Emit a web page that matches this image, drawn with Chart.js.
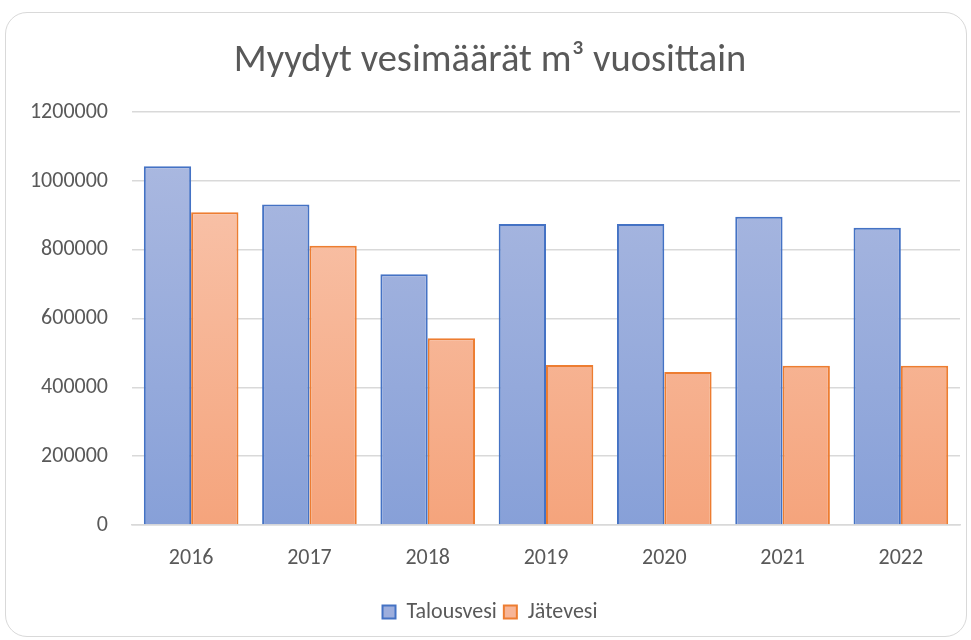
<!DOCTYPE html>
<html>
<head>
<meta charset="utf-8">
<script src="https://cdn.jsdelivr.net/npm/chart.js@4.4.1/dist/chart.umd.min.js"></script>
<style>
  body { margin: 0; background: #fff; }
  #card {
    position: absolute; left: 5px; top: 12px; width: 960px; height: 623px;
    border: 1px solid #d9d9d9; border-radius: 22px;
  }
  #wrap { position: absolute; left: 0; top: 0; width: 971px; height: 640px; }
</style>
</head>
<body>
<div id="card"></div>
<div id="wrap"><canvas id="waterChart" width="971" height="640"></canvas></div>
<script>
// 데이터
const years = ["2016", "2017", "2018", "2019", "2020", "2021", "2022"];
const talousvesi = [1043000, 932000, 729000, 875000, 875000, 896000, 864000];
const jatevesi = [909000, 812000, 543000, 465000, 445000, 463000, 463000];
const yTicks = [0, 200000, 400000, 600000, 800000, 1000000, 1200000];

const fontFamily = 'Carlito, "Liberation Sans Narrow", Lato, sans-serif';
const textColor = "#595959";

// 막대 그라데이션
function makeGradient(ctx, top, bottom) {
  const area = ctx.chart.chartArea;
  if (!area) return bottom;
  const g = ctx.chart.ctx.createLinearGradient(0, area.top, 0, area.bottom);
  g.addColorStop(0, top);
  g.addColorStop(1, bottom);
  return g;
}

const ctx = document.getElementById("waterChart").getContext("2d");
new Chart(ctx, {
  type: "bar",
  data: {
    labels: years,
    datasets: [
      {
        label: "Talousvesi",
        data: talousvesi,
        backgroundColor: (c) => makeGradient(c, "#aebbe1", "#87a0d8"),
        borderColor: "#4472c4",
        borderWidth: 2,
      },
      {
        label: "Jätevesi",
        data: jatevesi,
        backgroundColor: (c) => makeGradient(c, "#f9c9b3", "#f5a47c"),
        borderColor: "#ed7d31",
        borderWidth: 2,
      },
    ],
  },
  options: {
    responsive: false,
    animation: false,
    layout: { padding: { left: 20, right: 11, top: 0, bottom: 7 } },
    datasets: {
      bar: { categoryPercentage: 0.8, barPercentage: 1.0 },
    },
    scales: {
      x: {
        grid: { display: false, drawTicks: false },
        border: { display: true, color: "#d9d9d9", width: 1.5 },
        ticks: { color: textColor, font: { family: fontFamily, size: 22 }, padding: 20 },
        afterFit: (s) => { s.height = 69; },
      },
      y: {
        min: 0,
        max: 1200000,
        afterBuildTicks: (s) => { s.ticks = yTicks.map((v) => ({ value: v })); },
        grid: { color: "#d9d9d9", lineWidth: 1.5, drawTicks: false },
        border: { display: false },
        ticks: {
          color: textColor,
          font: { family: fontFamily, size: 22 },
          padding: 24,
          callback: (v) => String(v),
        },
        afterFit: (s) => { s.width = 112; },
      },
    },
    plugins: {
      title: {
        display: true,
        text: "Myydyt vesimäärät m³ vuosittain",
        color: textColor,
        font: { family: fontFamily, size: 38.5, weight: "normal" },
        padding: { top: 38, bottom: 28 },
      },
      legend: {
        position: "bottom",
        labels: {
          color: textColor,
          font: { family: fontFamily, size: 22 },
          boxWidth: 13,
          boxHeight: 13,
          padding: 7,
          generateLabels: (chart) => [
            { text: "Talousvesi", fillStyle: "#9daedd", strokeStyle: "#4472c4", lineWidth: 2, fontColor: textColor, datasetIndex: 0 },
            { text: "Jätevesi", fillStyle: "#f7b597", strokeStyle: "#ed7d31", lineWidth: 2, fontColor: textColor, datasetIndex: 1 },
          ],
        },
      },
      tooltip: { enabled: false },
    },
  },
});
</script>
</body>
</html>
